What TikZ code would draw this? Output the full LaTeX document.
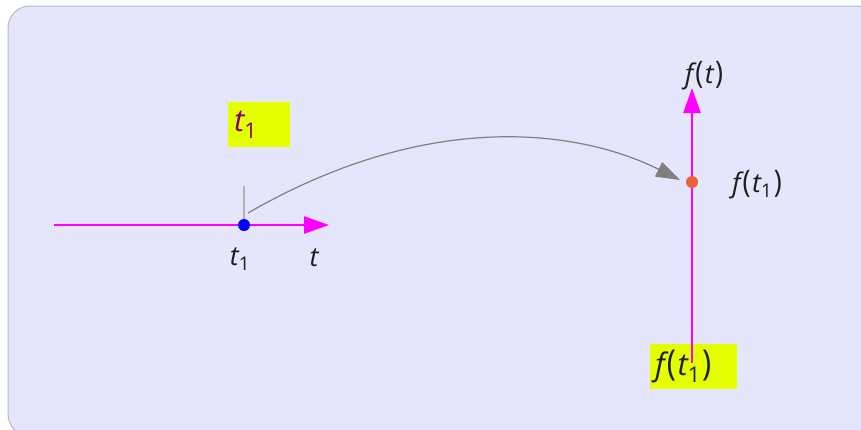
\documentclass[tikz,border=0pt]{standalone}
\usepackage{fontspec}
\setmainfont{Open Sans}
\usetikzlibrary{arrows.meta}
\definecolor{panelfill}{RGB}{229,229,252}
\definecolor{panelline}{RGB}{185,185,195}
\definecolor{axismag}{RGB}{255,0,255}
\definecolor{hiyellow}{RGB}{228,255,0}
\definecolor{curvegray}{RGB}{128,128,128}
\definecolor{tickgray}{RGB}{175,175,180}
\definecolor{ptorange}{RGB}{235,95,60}
\definecolor{labeltext}{RGB}{30,30,30}
\definecolor{boxtext}{RGB}{128,0,128}
\newcommand{\sub}[1]{\textsubscript{\upshape #1}}
\newcommand{\fof}[1]{f\kern2pt{\upshape\scalebox{1}[1.15]{(}}\kern1.5pt#1\kern1.5pt{\upshape\scalebox{1}[1.15]{)}}}

\begin{document}
\begin{tikzpicture}[x=1pt, y=-1pt,
    axis/.style={draw=axismag, line width=2.5pt, -{Triangle[length=25pt, width=17pt]}},
    lbl/.style={text=labeltext, font=\fontsize{27}{30}\selectfont\itshape, inner sep=0pt},
    hibox/.style={fill=hiyellow, anchor=north west, align=left, inner ysep=0pt,
        font=\fontsize{31}{34}\selectfont\itshape},
    dot/.style={circle, inner sep=0pt, minimum size=12pt}]
    % panel
    \useasboundingbox (0,0) rectangle (861,429);
    \clip (0,0) rectangle (861,429);
    \draw[panelline, fill=panelfill, line width=1pt, rounded corners=22pt] (8,6) rectangle (878,436);

    % highlighted boxes
    \node[hibox, text=boxtext, text width=50pt, inner xsep=6pt, minimum height=45pt] (tonebox) at (228,102) {t\sub{1}};
    \node[hibox, text=labeltext, text width=77pt, inner xsep=5pt, minimum height=45pt] (fonebox) at (650,344) {\fof{t\sub{1}}};

    % t axis
    \coordinate (taxisL) at (54,225);
    \coordinate (taxisR) at (329,225);
    \coordinate (ttick) at (244,186);
    \draw[axis] (taxisL) -- (taxisR);
    \node[dot, fill=blue] (tone) at (244,225) {};
    \draw[tickgray, line width=1.5pt] (ttick) -- (tone.north);
    \node[lbl] (tonelbl) at (240,259) {t\sub{1}};
    \node[lbl] (tlbl) at (314,258) {t};

    % f axis
    \coordinate (faxisB) at (692,363);
    \coordinate (faxisT) at (692,88);
    \draw[axis] (faxisB) -- (faxisT);
    \node[dot, fill=ptorange] (fone) at (692,182) {};
    \node[lbl] (ftlbl) at (704,76) {\fof{t}};
    \node[lbl] (fonelbl) at (757,185) {\fof{t\sub{1}}};

    % mapping
    \coordinate (curvestart) at (248,213);
    \coordinate (curveend) at (680,180);
    \draw[curvegray, line width=1.2pt, -{Triangle[length=24pt, width=16pt]}]
        (curvestart) .. controls (430,108) and (580,130) .. (curveend);
\end{tikzpicture}
\end{document}
